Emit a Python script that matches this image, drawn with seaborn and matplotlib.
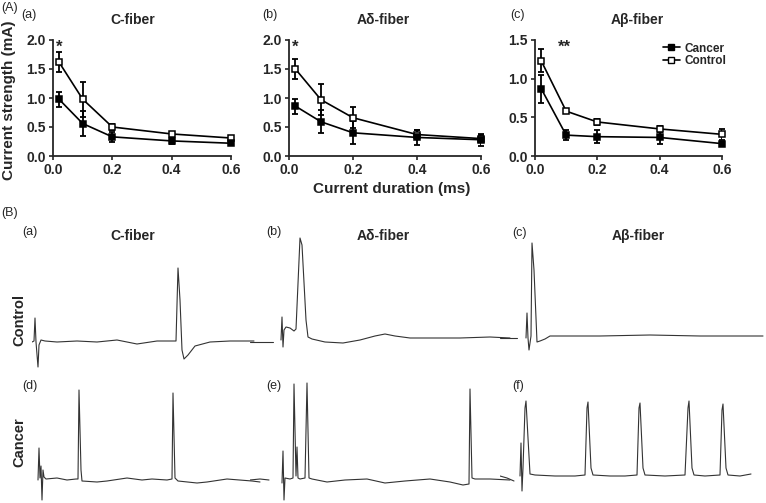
import numpy as np
import pandas as pd
import matplotlib
matplotlib.use("Agg")
import matplotlib.pyplot as plt
from matplotlib.lines import Line2D
import seaborn as sns

W, H = 766, 503

# ---- (A) threshold data (mean, sem) ----
durations = [0.02, 0.1, 0.2, 0.4, 0.6]

c_control = [1.62, 0.98, 0.50, 0.38, 0.31]
c_control_err = [0.18, 0.30, 0.05, 0.04, 0.04]
c_cancer = [0.98, 0.56, 0.33, 0.26, 0.22]
c_cancer_err = [0.13, 0.21, 0.09, 0.05, 0.03]

ad_control = [1.50, 0.97, 0.66, 0.37, 0.30]
ad_control_err = [0.17, 0.27, 0.18, 0.08, 0.06]
ad_cancer = [0.86, 0.59, 0.40, 0.32, 0.28]
ad_cancer_err = [0.13, 0.20, 0.20, 0.13, 0.10]

ab_control = [1.23, 0.58, 0.44, 0.35, 0.28]
ab_control_err = [0.15, 0.02, 0.04, 0.04, 0.07]
ab_cancer = [0.87, 0.27, 0.25, 0.24, 0.16]
ab_cancer_err = [0.18, 0.06, 0.08, 0.08, 0.02]

fiber_titles = ["C-fiber", "A\u03b4-fiber", "A\u03b2-fiber"]

# ---- (B) recording traces, keypoints ----
# (segment, time, amplitude) ; amplitude relative to baseline
trace_a = [(1, 0, 0), (1, 2, 1), (1, 3, 24), (1, 4, 0), (1, 6, -25), (1, 7, -3), (1, 9, 2),
           (1, 13, 1), (1, 25, 0), (1, 45, 1), (1, 65, 0), (1, 85, 2), (1, 105, -2),
           (1, 125, 1), (1, 144, 1), (1, 146, 74), (1, 148, 42), (1, 150, -8), (1, 152, -17),
           (1, 156, -13), (1, 163, -4), (1, 178, 0), (1, 198, 1), (1, 222, 1)]
trace_b = [(0, 0, 0), (0, 12, 0), (0, 23, 0),
           (1, 31, 2), (1, 32, 25), (1, 33, -5), (1, 34, 12), (1, 36, 15), (1, 40, 14),
           (1, 44, 11), (1, 46, 13), (1, 50, 104), (1, 52, 97), (1, 56, 22), (1, 58, 5),
           (1, 62, 3), (1, 75, 0), (1, 93, -1), (1, 110, 2), (1, 125, 6), (1, 135, 8),
           (1, 145, 6), (1, 160, 4), (1, 180, 4), (1, 210, 4), (1, 240, 5), (1, 260, 4)]
trace_c = [(0, 0, 0), (0, 17, 0),
           (1, 26, 0), (1, 27, 25), (1, 28, 0), (1, 29, -12), (1, 31, 2), (1, 32, 95),
           (1, 34, 68), (1, 37, -4), (1, 40, -3), (1, 45, -1), (1, 50, 2), (1, 100, 2),
           (1, 150, 3), (1, 200, 2), (1, 263, 2)]
trace_d = [(1, 8, 0), (1, 9, 32), (1, 10, 2), (1, 11, 14), (1, 12, -20), (1, 13, 10),
           (1, 14, 3), (1, 16, 1), (1, 27, 2), (1, 37, 0), (1, 46, 1), (1, 48, 1),
           (1, 49, 90), (1, 51, 10), (1, 52, -1), (1, 67, -2), (1, 77, -1), (1, 97, 2),
           (1, 112, 0), (1, 122, 1), (1, 137, 0), (1, 142, 1), (1, 143, 87), (1, 145, 2),
           (1, 148, -1), (1, 167, -3), (1, 177, -2), (1, 197, 1), (1, 222, -1), (1, 230, -2)]
trace_e = [(0, 0, 0), (0, 10, 1), (0, 19, 0),
           (1, 32, -3), (1, 33, 29), (1, 34, -20), (1, 35, 2), (1, 40, 1), (1, 43, 2),
           (1, 44, 96), (1, 46, 4), (1, 47, 33), (1, 48, 2), (1, 50, 1), (1, 55, 2),
           (1, 57, 97), (1, 59, 2), (1, 62, 1), (1, 77, -2), (1, 95, 0), (1, 117, 1),
           (1, 135, -3), (1, 155, -1), (1, 180, 1), (1, 200, -2), (1, 213, -5),
           (1, 219, -4), (1, 220, 91), (1, 222, 2), (1, 225, 1), (1, 240, 1), (1, 260, 0)]
trace_f = [(0, 0, 2), (0, 7, 0), (0, 14, -3),
           (1, 20, 2), (1, 21, 35), (1, 22, -13), (1, 23, 10), (1, 25, 70), (1, 26, 77),
           (1, 28, 40), (1, 30, 4), (1, 35, 3), (1, 55, 2), (1, 75, 2), (1, 85, 3),
           (1, 87, 70), (1, 88, 76), (1, 91, 10), (1, 93, 3), (1, 110, 2), (1, 125, 2),
           (1, 137, 3), (1, 139, 70), (1, 140, 75), (1, 143, 10), (1, 145, 3), (1, 165, 2),
           (1, 185, 3), (1, 188, 70), (1, 189, 77), (1, 192, 10), (1, 194, 3), (1, 205, 2),
           (1, 220, 3), (1, 222, 68), (1, 223, 74), (1, 226, 10), (1, 228, 3),
           (1, 240, 2), (1, 251, 4)]

sns.set_theme(style="ticks")
plt.rcParams["font.family"] = ["Liberation Sans", "DejaVu Sans"]

fig = plt.figure(figsize=(W / 100, H / 100), dpi=100)


def px_axes(x0, y0, x1, y1):
    # pixel box (top-left origin) -> figure axes
    return fig.add_axes([x0 / W, 1 - y1 / H, (x1 - x0) / W, (y1 - y0) / H])


def ftext(x, y, s, **kw):
    fig.text(x / W, 1 - y / H, s, **kw)


# -------------------------
# (A) threshold curves
# -------------------------
panels = [
    ((53, 40, 231, 156), c_cancer, c_cancer_err, c_control, c_control_err, 2.0),
    ((289, 40, 481, 156), ad_cancer, ad_cancer_err, ad_control, ad_control_err, 2.0),
    ((535, 40, 722, 156), ab_cancer, ab_cancer_err, ab_control, ab_control_err, 1.5),
]
top_axes = []
for box, ca, ca_e, co, co_e, ymax in panels:
    ax = px_axes(*box)
    top_axes.append(ax)
    for vals, errs, face in [(co, co_e, "white"), (ca, ca_e, "black")]:
        ax.errorbar(durations, vals, yerr=errs, fmt="none", ecolor="black",
                    elinewidth=1.3, capsize=2.5, capthick=1.3, zorder=2)
        df = pd.DataFrame({"duration": durations, "strength": vals})
        sns.lineplot(data=df, x="duration", y="strength", ax=ax, color="black",
                     linewidth=1.2, marker="s", markersize=3.8,
                     markerfacecolor=face, markeredgecolor="black",
                     markeredgewidth=1.1, zorder=3)
    ax.set_xlim(0, 0.6)
    ax.set_ylim(0, ymax)
    ax.set_xticks([0, 0.2, 0.4, 0.6])
    ax.set_yticks(np.arange(0, ymax + 0.01, 0.5))
    ax.xaxis.set_major_formatter(plt.FormatStrFormatter("%.1f"))
    ax.yaxis.set_major_formatter(plt.FormatStrFormatter("%.1f"))
    ax.set_xlabel("")
    ax.set_ylabel("")
    sns.despine(ax=ax)
    for sp in ax.spines.values():
        sp.set_linewidth(1.3)
    ax.tick_params(length=3, width=1.2, pad=2, labelsize=10)
    for lab in ax.get_xticklabels() + ax.get_yticklabels():
        lab.set_fontweight("bold")
    for line in ax.get_lines():
        line.set_clip_on(False)

top_axes[0].text(0.02, 1.87, "*", ha="center", va="center", fontsize=12, fontweight="bold")
top_axes[1].text(0.02, 1.87, "*", ha="center", va="center", fontsize=12, fontweight="bold")
top_axes[2].text(0.096, 1.40, "**", ha="center", va="center", fontsize=12, fontweight="bold")

handles = [
    Line2D([], [], color="black", lw=1.2, marker="s", markersize=4, markerfacecolor="black"),
    Line2D([], [], color="black", lw=1.2, marker="s", markersize=4, markerfacecolor="white"),
]
top_axes[2].legend(handles, ["Cancer", "Control"], loc="upper right",
                   bbox_to_anchor=(1.08, 1.07), frameon=False, handlelength=1.4,
                   handletextpad=0.4, labelspacing=0.05,
                   prop={"weight": "bold", "size": 8.5})

for cx, title in zip([133, 383, 637], fiber_titles):
    ftext(cx, 20, title, ha="center", va="center", fontsize=10, fontweight="bold")
ftext(1, 8, "(A)", ha="left", va="center", fontsize=9)
ftext(21, 15, "(a)", ha="left", va="center", fontsize=9)
ftext(262, 15, "(b)", ha="left", va="center", fontsize=9)
ftext(510, 15, "(c)", ha="left", va="center", fontsize=9)
ftext(9, 100, "Current strength (mA)", ha="center", va="center", rotation=90,
      fontsize=11, fontweight="bold")
ftext(392, 189, "Current duration (ms)", ha="center", va="center",
      fontsize=11, fontweight="bold")

# -------------------------
# (B) example recordings
# -------------------------
traces = [
    (trace_a, 32, 342, 262), (trace_b, 250, 342, 512), (trace_c, 500, 338, 766),
    (trace_d, 30, 480, 262), (trace_e, 250, 480, 512), (trace_f, 500, 478, 766),
]
for pts, left, base, right in traces:
    df = pd.DataFrame(pts, columns=["seg", "t", "v"])
    ax = px_axes(left, base - 120, right, base + 30)
    sns.lineplot(data=df, x="t", y="v", units="seg", estimator=None, sort=False,
                 ax=ax, color="#333333", linewidth=0.8)
    ax.set_xlim(0, right - left)
    ax.set_ylim(-30, 120)
    ax.axis("off")

ftext(1, 213, "(B)", ha="left", va="center", fontsize=9)
for x, y, s in [(22, 232, "(a)"), (266, 232, "(b)"), (512, 233, "(c)"),
                (22, 386, "(d)"), (266, 386, "(e)"), (512, 386, "(f)")]:
    ftext(x, y, s, ha="left", va="center", fontsize=9)
for cx, title in zip([133, 383, 638], fiber_titles):
    ftext(cx, 236, title, ha="center", va="center", fontsize=10, fontweight="bold")
ftext(19, 320, "Control", ha="center", va="center", rotation=90, fontsize=10.5, fontweight="bold")
ftext(19, 442, "Cancer", ha="center", va="center", rotation=90, fontsize=10.5, fontweight="bold")

fig.savefig("out.png", dpi=100)
